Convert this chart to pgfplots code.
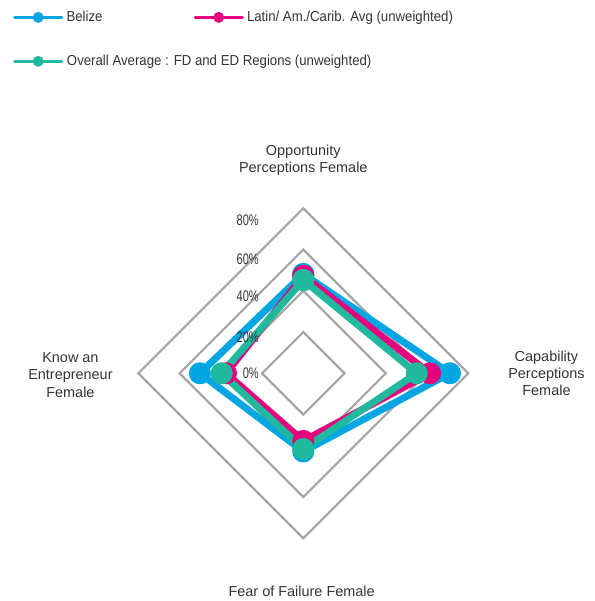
\documentclass[border=0pt]{standalone}
\usepackage{pgfplots}
\pgfplotsset{compat=1.18}
\usepackage{fontspec}
\setmainfont{Liberation Sans}
\newfontfamily\condfont{Liberation Sans}[FakeStretch=0.72]
\newfontfamily\legfont{Liberation Sans}[FakeStretch=0.915]
\definecolor{cBel}{RGB}{0,166,226}
\definecolor{cLat}{RGB}{230,0,126}
\definecolor{cAvg}{RGB}{32,185,157}
\definecolor{cGrid}{RGB}{166,166,166}
\definecolor{cText}{RGB}{51,51,51}
\begin{document}
\begin{tikzpicture}
\useasboundingbox (0,0) rectangle (595bp,601bp);
\begin{axis}[
  at={(0,0)}, anchor=south west,
  x=2.0625bp, y=2.0625bp,
  xmin=-147.05, xmax=141.43, ymin=-110.4, ymax=181.0,
  hide axis, clip=false,
  legend columns=2,
  legend image code/.code={
    \draw[#1, line width=3.5bp, mark=none] (0bp,0bp) -- (47bp,0bp);
    \fill[#1, draw=none] (23.5bp,0bp) circle (5.5bp);
  },
  legend style={draw=none, fill=none, inner sep=0pt, outer sep=0pt,
    at={(0.02185,0.981)}, anchor=north west,
    font=\legfont\fontsize{14.5}{17}\selectfont, text=cText,
    nodes={inner sep=0pt, anchor=west},
    column sep=0pt, row sep=32bp,
    /tikz/every odd column/.append style={column sep=3bp}},
  every axis plot/.append style={line width=7bp, line join=round, line cap=round,
    mark=*, mark size=7.5bp, mark options={draw=none}},
]
% grid diamonds
\addplot[cGrid, line width=2.2bp, mark=none, line join=miter, forget plot] coordinates {(0,20)(20,0)(0,-20)(-20,0)(0,20)(20,0)};
\addplot[cGrid, line width=2.2bp, mark=none, line join=miter, forget plot] coordinates {(0,40)(40,0)(0,-40)(-40,0)(0,40)(40,0)};
\addplot[cGrid, line width=2.2bp, mark=none, line join=miter, forget plot] coordinates {(0,60)(60,0)(0,-60)(-60,0)(0,60)(60,0)};
\addplot[cGrid, line width=2.2bp, mark=none, line join=miter, forget plot] coordinates {(0,80)(80,0)(0,-80)(-80,0)(0,80)(80,0)};
% data: Opportunity (top), Capability (right), Fear of Failure (bottom), Know an Entrepreneur (left)
\addplot[cBel, mark options={fill=cBel}] coordinates {(0,48.1)(71.1,0)(0,-37.9)(-50.1,0)(0,48.1)};
\addplot[cLat, mark options={fill=cLat}] coordinates {(0,47.2)(61.4,0)(0,-32.8)(-37.5,0)(0,47.2)};
\addplot[cAvg, mark options={fill=cAvg}] coordinates {(0,45.2)(55.0,0)(0,-36.7)(-39.6,0)(0,45.2)};
\legend{\makebox[127bp][l]{Belize}, Latin/ Am./Carib. Avg (unweighted), \rlap{Overall Average : FD and ED Regions (unweighted)}}
% radial tick labels
\begin{scope}[every node/.style={anchor=east, inner sep=0pt, text=cText, font=\condfont\fontsize{15.4}{17}\selectfont}]
\node at (axis cs:-21.5,74.3) {80\%};
\node at (axis cs:-21.5,55.4) {60\%};
\node at (axis cs:-21.5,37.5) {40\%};
\node at (axis cs:-21.5,17.6) {20\%};
\node at (axis cs:-21.5,0) {0\%};
\end{scope}
% category labels
\begin{scope}[every node/.style={align=center, inner sep=0pt, text=cText, font=\fontsize{14.5}{17.5}\selectfont}]
\node at (axis cs:0,103.4) {Opportunity\\Perceptions Female};
\node at (axis cs:117.9,0) {Capability\\Perceptions\\Female};
\node at (axis cs:-112.9,-0.8) {Know an\\Entrepreneur\\Female};
\node at (axis cs:-0.8,-105.6) {Fear of Failure Female};
\end{scope}
\end{axis}
\end{tikzpicture}
\end{document}
